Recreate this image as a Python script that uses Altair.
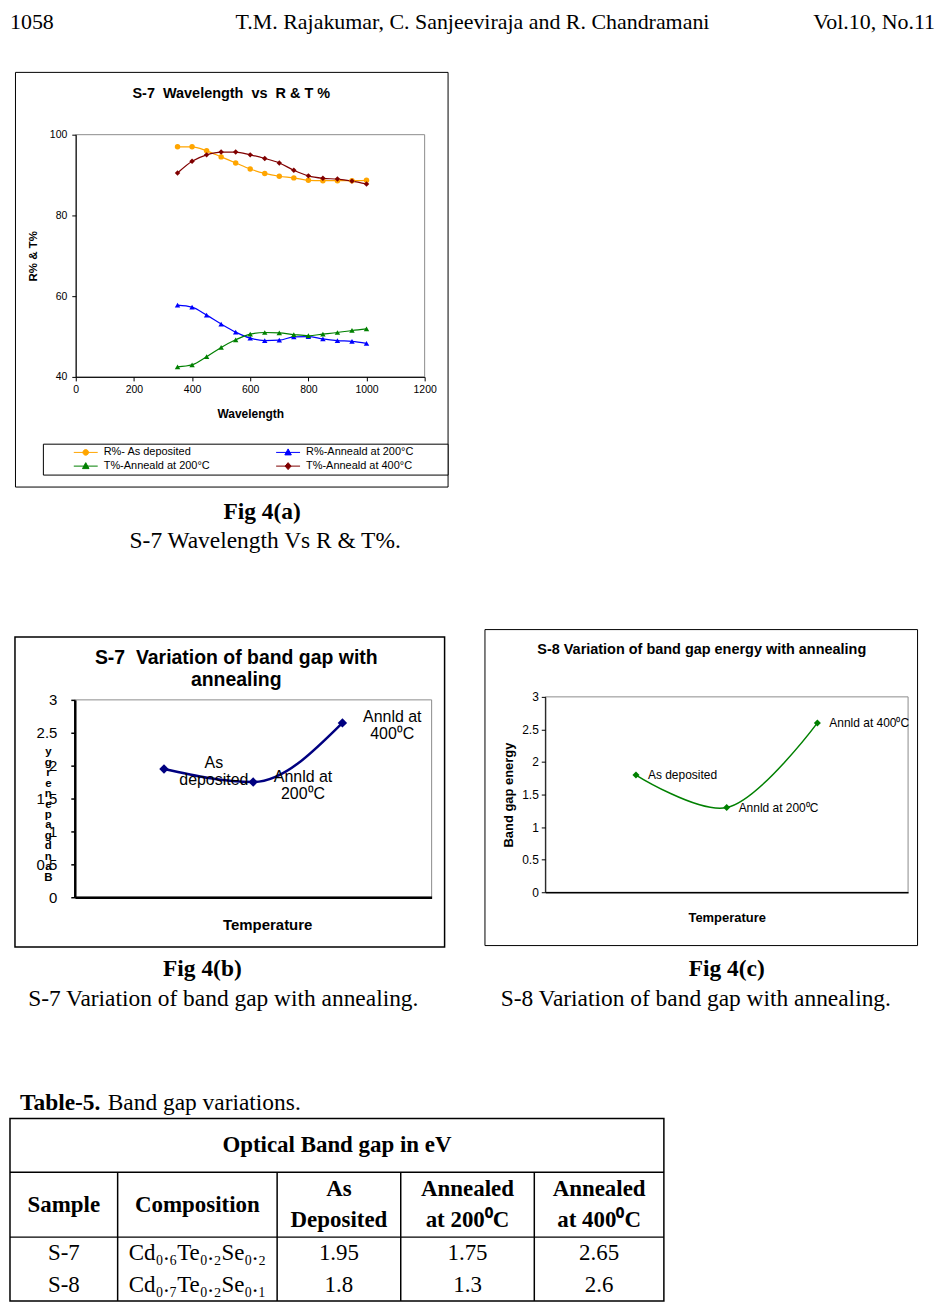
import altair as alt
import pandas as pd

# ------------------------------------------------------------------ data
# Fig 4(a)  S-7 wavelength vs R & T %
wavelength = [350, 400, 450, 500, 550, 600, 650, 700, 750, 800, 850, 900, 950, 1000]
r_as_deposited = [97.0, 97.0, 96.0, 94.5, 93.0, 91.5, 90.4, 89.7, 89.3, 88.7, 88.6, 88.6, 88.6, 88.7]
r_anneal_200 = [57.8, 57.3, 55.3, 53.1, 51.1, 49.6, 49.0, 49.1, 49.9, 50.0, 49.4, 49.0, 48.8, 48.3]
t_anneal_200 = [42.5, 43.0, 45.0, 47.3, 49.2, 50.6, 51.0, 50.9, 50.5, 50.2, 50.6, 51.0, 51.5, 51.9]
t_anneal_400 = [90.5, 93.4, 95.0, 95.7, 95.7, 95.0, 94.1, 93.0, 91.2, 89.8, 89.2, 89.0, 88.5, 87.8]
series_names = ["R%- As deposited", "R%-Anneald at 200°C", "T%-Anneald at 200°C", "T%-Anneald at 400°C"]
series_colors = ["#FFA500", "#0000FF", "#008000", "#800000"]
series_shapes = ["circle", "triangle-up", "triangle-up", "diamond"]

# Fig 4(b), 4(c) and Table-5
stages = ["As deposited", "Annealed at 200°C", "Annealed at 400°C"]
s7_gap = [1.95, 1.75, 2.65]
s8_gap = [1.8, 1.3, 2.6]
s7_point_labels = ["As\ndeposited", "Annld at\n200⁰C", "Annld at\n400⁰C"]
s8_point_labels = ["As deposited", "Annld at 200⁰C", "Annld at 400⁰C"]
samples = ["S-7", "S-8"]
compositions = ["Cd₀.₆Te₀.₂Se₀.₂", "Cd₀.₇Te₀.₂Se₀.₁"]
table_title = "Optical Band gap in eV"
table_columns = ["Sample", "Composition", "As\nDeposited", "Annealed\nat 200⁰C", "Annealed\nat 400⁰C"]

# texts
header_left, header_mid, header_right = "1058", "T.M. Rajakumar, C. Sanjeeviraja and R. Chandramani", "Vol.10, No.11"
title_a = "S-7\u00a0 Wavelength\u00a0 vs\u00a0 R & T %"
title_b = "S-7\u00a0 Variation of band gap with\nannealing"
title_c = "S-8 Variation of band gap energy with annealing"
cap_a = ("Fig 4(a)", "S-7 Wavelength Vs R & T%.")
cap_b = ("Fig 4(b)", "S-7 Variation of band gap with annealing.")
cap_c = ("Fig 4(c)", "S-8 Variation of band gap with annealing.")
table_label = ("Table-5.", "Band gap variations.")

SANS = "Liberation Sans"
SERIF = "Liberation Serif"
FRAME = "#8c8c8c"


def text_layer(txt, x, y, font, size, weight="normal", align="center",
               baseline="alphabetic", line_height=20):
    kw = dict(font=font, fontSize=size, fontWeight=weight, align=align,
              baseline=baseline, color="black")
    if "\n" in txt:
        kw.update(lineBreak="\n", lineHeight=line_height)
    return alt.Chart(pd.DataFrame({"t": [txt]})).mark_text(**kw).encode(
        text="t:N", x=alt.value(x), y=alt.value(y))


def spacer(w, h):
    return alt.Chart(pd.DataFrame({"s": [0]})).mark_rect(opacity=0).encode(
        x=alt.value(0), x2=alt.value(w), y=alt.value(0), y2=alt.value(h)
    ).properties(width=w, height=h)


def plot_frame(xdom, ydom):
    # grey border of the plot area, drawn at the scale domain limits
    return alt.Chart(pd.DataFrame({"f": [0]})).mark_rect(
        fill="transparent", stroke=FRAME, strokeWidth=1).encode(
        x=alt.X(datum=xdom[0]), x2=alt.X2(datum=xdom[1]),
        y=alt.Y(datum=ydom[0]), y2=alt.Y2(datum=ydom[1]))


# ------------------------------------------------------------------ Fig 4(a)
A_W, A_H = 434, 416
A_X0, A_X1, A_Y0, A_Y1 = 61, 411, 63, 306
A_XDOM, A_YDOM = [0, 1200], [40, 100]

rows = []
for name, vals in zip(series_names, [r_as_deposited, r_anneal_200, t_anneal_200, t_anneal_400]):
    for w, v in zip(wavelength, vals):
        rows.append({"series": name, "wavelength": w, "value": v})
df_a = pd.DataFrame(rows)

xa = alt.Scale(domain=A_XDOM, range=[A_X0, A_X1], nice=False, zero=False)
ya = alt.Scale(domain=A_YDOM, range=[A_Y1, A_Y0], nice=False, zero=False)
col_a = alt.Scale(domain=series_names, range=series_colors)
xa_axis = alt.Axis(
    orient="bottom", offset=A_Y1 - A_H, values=list(range(0, 1201, 200)), format="d",
    grid=False, tickSize=4, tickColor="black", domainColor="black", labelFlush=False,
    labelPadding=4, labelFont=SANS, labelFontSize=10.5, labelColor="black",
    title="Wavelength", titleFont=SANS, titleFontSize=12, titleFontWeight="bold",
    titleColor="black", titleX=(A_X0 + A_X1) / 2, titleY=37,
    titleAlign="center", titleBaseline="middle", zindex=1)
ya_axis = alt.Axis(
    orient="left", offset=-A_X0, values=[40, 60, 80, 100], format="d", grid=False,
    tickSize=4, tickColor="black", domainColor="black",
    labelPadding=5, labelFont=SANS, labelFontSize=10.5, labelColor="black",
    title="R% & T%", titleFont=SANS, titleFontSize=11.5, titleFontWeight="bold",
    titleColor="black", titleX=-42, titleY=(A_Y0 + A_Y1) / 2, titleAngle=270,
    titleAlign="center", titleBaseline="middle", zindex=1)

a_lines = alt.Chart(df_a).mark_line(interpolate="monotone", strokeWidth=1.2).encode(
    x=alt.X("wavelength:Q", scale=xa, axis=xa_axis),
    y=alt.Y("value:Q", scale=ya, axis=ya_axis),
    color=alt.Color("series:N", scale=col_a, legend=None),
)
a_points = alt.Chart(df_a).mark_point(filled=True, size=30, opacity=1).encode(
    x=alt.X("wavelength:Q", scale=xa, axis=xa_axis),
    y=alt.Y("value:Q", scale=ya, axis=ya_axis),
    color=alt.Color("series:N", scale=col_a, legend=None),
    shape=alt.Shape("series:N", scale=alt.Scale(domain=series_names, range=series_shapes), legend=None),
)

# legend symbols: short line with the series marker in the middle (unit = 5 px)
legend_paths = [
    "M-2.4,0H2.4M-0.56,0A0.56,0.56 0 1,0 0.56,0A0.56,0.56 0 1,0 -0.56,0Z",
    "M-2.4,0H2.4M0,-0.7L0.65,0.5L-0.65,0.5Z",
    "M-2.4,0H2.4M0,-0.7L0.65,0.5L-0.65,0.5Z",
    "M-2.4,0H2.4M0,-0.7L0.6,0L0,0.7L-0.6,0Z",
]
leg = alt.Legend(
    orient="none", legendX=28, legendY=373, columns=2, direction="horizontal",
    title="\u00a0", titleOrient="right", titlePadding=31, titleFontSize=11,
    padding=3, strokeColor="black", fillColor="white",
    symbolSize=100, symbolStrokeWidth=1, symbolOffset=34.5, labelOffset=12.5,
    columnPadding=38, rowPadding=2,
    labelFont=SANS, labelFontSize=11, labelColor="black",
)
a_legend = alt.Chart(pd.DataFrame({"series": series_names})).transform_filter("false").mark_point(
    filled=True, opacity=1, strokeWidth=1).encode(
    fill=alt.Fill("series:N", scale=alt.Scale(domain=series_names, range=series_colors), legend=leg),
    stroke=alt.Stroke("series:N", scale=alt.Scale(domain=series_names, range=series_colors), legend=leg),
    shape=alt.Shape("series:N", scale=alt.Scale(domain=series_names, range=legend_paths), legend=leg),
)

fig_a = alt.layer(
    plot_frame(A_XDOM, A_YDOM), a_lines, a_points, a_legend,
    text_layer(title_a, 217, 22, SANS, 14.5, "bold", baseline="middle"),
).resolve_scale(shape="independent", fill="independent", stroke="independent").properties(
    width=A_W, height=A_H, view=alt.ViewBackground(stroke="black", strokeWidth=1))

# ------------------------------------------------------------------ Fig 4(b)/4(c) helpers
STAGE_DOM = [0, len(stages) + 1]   # stages sit at 1, 2, 3 (quarter points of the x axis)
GAP_DOM = [0, 3]
GAP_TICKS = [0, 0.5, 1, 1.5, 2, 2.5, 3]


def stage_frame(gaps, labels):
    return pd.DataFrame({"stage": stages, "pos": list(range(1, len(stages) + 1)),
                         "gap": gaps, "label": labels})


# ------------------------------------------------------------------ Fig 4(b)
B_W, B_H = 431, 311
B_X0, B_X1, B_Y0, B_Y1 = 60, 418, 63, 261
df_b = stage_frame(s7_gap, s7_point_labels)
xb = alt.Scale(domain=STAGE_DOM, range=[B_X0, B_X1], nice=False, zero=False)
yb = alt.Scale(domain=GAP_DOM, range=[B_Y1, B_Y0], nice=False)
stack_title = list("ygrenepagdnaB")
STACK_LH = 10.5
xb_axis = alt.Axis(
    orient="bottom", offset=B_Y1 - B_H, labels=False, ticks=False, grid=False,
    domainColor="black", domainWidth=2.5, zindex=1,
    title="Temperature", titleFont=SANS, titleFontSize=15, titleFontWeight="bold",
    titleColor="black", titleX=253, titleY=27, titleAlign="center", titleBaseline="middle")
yb_axis = alt.Axis(
    orient="left", offset=-B_X0, values=GAP_TICKS, format="~g", grid=False,
    domainColor="black", domainWidth=2.5, tickColor="black", tickSize=4, tickWidth=1.5,
    labelPadding=14, labelFont=SANS, labelFontSize=15, labelColor="black", zindex=1,
    title=stack_title, titleFont=SANS, titleFontSize=11.5, titleFontWeight="bold",
    titleColor="black", titleAngle=0, titleLineHeight=STACK_LH, titleX=-27,
    titleY=178 - STACK_LH * (len(stack_title) - 1) / 2,
    titleAlign="center", titleBaseline="middle")

b_line = alt.Chart(df_b).mark_line(interpolate="monotone", color="#000080", strokeWidth=2.5).encode(
    x=alt.X("pos:Q", scale=xb, axis=xb_axis), y=alt.Y("gap:Q", scale=yb, axis=yb_axis))
b_pts = alt.Chart(df_b).mark_point(shape="diamond", filled=True, size=90, color="#000080", opacity=1).encode(
    x=alt.X("pos:Q", scale=xb, axis=xb_axis), y=alt.Y("gap:Q", scale=yb, axis=yb_axis))
b_lbl = alt.Chart(df_b).mark_text(font=SANS, fontSize=16, color="black", align="center",
                                  baseline="middle", lineBreak="\n", lineHeight=17, dx=50, dy=-5.5).encode(
    x=alt.X("pos:Q", scale=xb, axis=xb_axis), y=alt.Y("gap:Q", scale=yb, axis=yb_axis), text="label:N")
fig_b = alt.layer(
    plot_frame(STAGE_DOM, GAP_DOM), b_line, b_pts, b_lbl,
    text_layer(title_b, 222, 21, SANS, 19.5, "bold", baseline="middle", line_height=22),
).properties(width=B_W, height=B_H, view=alt.ViewBackground(stroke="black", strokeWidth=1.5))

# ------------------------------------------------------------------ Fig 4(c)
C_W, C_H = 434, 317
C_X0, C_X1, C_Y0, C_Y1 = 61, 425, 68, 264
df_c = stage_frame(s8_gap, s8_point_labels)
xc = alt.Scale(domain=STAGE_DOM, range=[C_X0, C_X1], nice=False, zero=False)
yc = alt.Scale(domain=GAP_DOM, range=[C_Y1, C_Y0], nice=False)
xc_axis = alt.Axis(
    orient="bottom", offset=C_Y1 - C_H, labels=False, ticks=False, grid=False,
    domainColor="black", domainWidth=1.5, zindex=1,
    title="Temperature", titleFont=SANS, titleFontSize=13, titleFontWeight="bold",
    titleColor="black", titleX=(C_X0 + C_X1) / 2, titleY=25, titleAlign="center",
    titleBaseline="middle")
yc_axis = alt.Axis(
    orient="left", offset=-C_X0, values=GAP_TICKS, format="~g", grid=False,
    domainColor="black", tickColor="black", tickSize=4, zindex=1,
    labelPadding=3, labelFont=SANS, labelFontSize=12, labelColor="black",
    title="Band gap energy", titleFont=SANS, titleFontSize=13, titleFontWeight="bold",
    titleColor="black", titleAngle=270, titleX=-37, titleY=166,
    titleAlign="center", titleBaseline="middle")

c_line = alt.Chart(df_c).mark_line(interpolate="catmull-rom", color="#008000", strokeWidth=1.5).encode(
    x=alt.X("pos:Q", scale=xc, axis=xc_axis), y=alt.Y("gap:Q", scale=yc, axis=yc_axis))
c_pts = alt.Chart(df_c).mark_point(shape="diamond", filled=True, size=50, color="#008000", opacity=1).encode(
    x=alt.X("pos:Q", scale=xc, axis=xc_axis), y=alt.Y("gap:Q", scale=yc, axis=yc_axis))
c_lbl = alt.Chart(df_c).mark_text(font=SANS, fontSize=12, color="black", align="left",
                                  baseline="middle", dx=12).encode(
    x=alt.X("pos:Q", scale=xc, axis=xc_axis), y=alt.Y("gap:Q", scale=yc, axis=yc_axis), text="label:N")
fig_c = alt.layer(
    plot_frame(STAGE_DOM, GAP_DOM), c_line, c_pts, c_lbl,
    text_layer(title_c, 218, 21, SANS, 14.5, "bold", baseline="middle"),
).properties(width=C_W, height=C_H, view=alt.ViewBackground(stroke="black", strokeWidth=1))

# ------------------------------------------------------------------ Table-5
T_COLW = [108, 160, 124, 134, 130]
T_ROWH = [54, 65, 32, 32]
T_LH = 31
T_W, T_H = sum(T_COLW), sum(T_ROWH)
col_edges = [0]
for w in T_COLW:
    col_edges.append(col_edges[-1] + w)
row_edges = [0]
for h in T_ROWH:
    row_edges.append(row_edges[-1] + h)
col_mid = [(col_edges[i] + col_edges[i + 1]) / 2 for i in range(len(T_COLW))]
row_mid = [(row_edges[i] + row_edges[i + 1]) / 2 for i in range(len(T_ROWH))]


def first_line_y(mid, txt):
    return mid - T_LH * txt.count("\n") / 2


head_cells = [{"x": T_W / 2, "y": row_mid[0], "t": table_title}]
head_cells += [{"x": col_mid[i], "y": first_line_y(row_mid[1], c), "t": c}
               for i, c in enumerate(table_columns)]
body_cells = []
for r, (smp, comp, g) in enumerate(zip(samples, compositions, [s7_gap, s8_gap])):
    vals = [smp, comp] + [str(v) for v in g]
    body_cells += [{"x": col_mid[i], "y": row_mid[2 + r], "t": v} for i, v in enumerate(vals)]

rules = [{"x": 0, "x2": T_W, "y": row_edges[k], "y2": row_edges[k]} for k in (1, 2)]
rules += [{"x": e, "x2": e, "y": row_edges[1], "y2": T_H} for e in col_edges[1:-1]]

tx = alt.Scale(domain=[0, T_W], range=[0, T_W])
ty = alt.Scale(domain=[0, T_H], range=[0, T_H])

t_rules = alt.Chart(pd.DataFrame(rules)).mark_rule(color="black", strokeWidth=1.5).encode(
    x=alt.X("x:Q", scale=tx, axis=None), x2="x2:Q",
    y=alt.Y("y:Q", scale=ty, axis=None), y2="y2:Q")
t_head = alt.Chart(pd.DataFrame(head_cells)).mark_text(
    font=SERIF, fontSize=23, fontWeight="bold", color="black", baseline="middle",
    lineBreak="\n", lineHeight=T_LH).encode(
    x=alt.X("x:Q", scale=tx, axis=None), y=alt.Y("y:Q", scale=ty, axis=None), text="t:N")
t_body = alt.Chart(pd.DataFrame(body_cells)).mark_text(
    font=SERIF, fontSize=23, color="black", baseline="middle").encode(
    x=alt.X("x:Q", scale=tx, axis=None), y=alt.Y("y:Q", scale=ty, axis=None), text="t:N")
table = alt.layer(t_rules, t_head, t_body).properties(
    width=T_W, height=T_H, view=alt.ViewBackground(stroke="black", strokeWidth=1.5))

# ------------------------------------------------------------------ page
# row heights / spacer sizes include small corrections for the extra
# bounds that the layout adds around each framed figure
PAGE_W = 928
header = alt.layer(
    text_layer(header_left, 0, 18, SERIF, 22, align="left"),
    text_layer(header_mid, PAGE_W / 2, 18, SERIF, 22),
    text_layer(header_right, PAGE_W, 18, SERIF, 22, align="right"),
).properties(width=PAGE_W, height=59)

caption_a = alt.layer(
    text_layer(cap_a[0], 253, 31, SERIF, 23.5, "bold"),
    text_layer(cap_a[1], 256, 60, SERIF, 23.5),
).properties(width=PAGE_W, height=139)

caption_bc = alt.layer(
    text_layer(cap_b[0], 193, 27, SERIF, 23.5, "bold"),
    text_layer(cap_b[1], 214, 57, SERIF, 23.5),
    text_layer(cap_c[0], 719, 27, SERIF, 23.5, "bold"),
    text_layer(cap_c[1], 688, 57, SERIF, 23.5),
    text_layer(table_label[0], 10, 161, SERIF, 23.5, "bold", align="left"),
    text_layer(table_label[1], 98, 161, SERIF, 23.5, align="left"),
).properties(width=PAGE_W, height=168)

row_a = alt.hconcat(spacer(3, A_H), fig_a, spacing=0)
row_bc = alt.hconcat(
    spacer(3, 319),
    alt.vconcat(spacer(B_W, 6), fig_b, spacing=0),
    spacer(36, 319),
    fig_c,
    spacing=0,
)

chart = alt.vconcat(header, row_a, caption_a, row_bc, caption_bc, table, spacing=0).properties(
    padding=0, background="white"
).configure_view(stroke="transparent")

chart.save("out.html", embed_options={"renderer": "svg", "actions": False})
